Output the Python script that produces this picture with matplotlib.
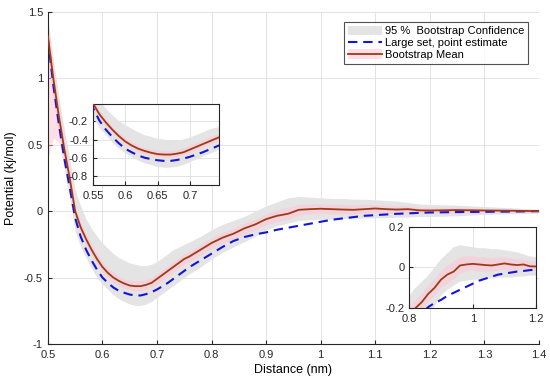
import numpy as np
import matplotlib
matplotlib.use("Agg")
import matplotlib.pyplot as plt
from matplotlib.patches import Patch
from matplotlib.lines import Line2D

plt.rcParams['font.family'] = ['Liberation Sans', 'DejaVu Sans']

# distance (nm)
dist = [0.50, 0.51, 0.52, 0.53, 0.54, 0.55, 0.56, 0.57, 0.58, 0.59,
        0.60, 0.61, 0.62, 0.63, 0.64, 0.65, 0.66, 0.67, 0.68, 0.69,
        0.70, 0.71, 0.72, 0.73, 0.74, 0.75, 0.76, 0.78, 0.80, 0.82,
        0.84, 0.86, 0.88, 0.90, 0.92, 0.94, 0.96, 0.98, 1.00, 1.02,
        1.04, 1.06, 1.08, 1.10, 1.12, 1.14, 1.16, 1.18, 1.20, 1.25,
        1.30, 1.35, 1.40]

# bootstrap mean
boot_mean = [1.32, 1.00, 0.72, 0.47, 0.25, 0.00, -0.12, -0.21, -0.29, -0.36,
             -0.42, -0.465, -0.50, -0.525, -0.545, -0.56, -0.565, -0.565, -0.555, -0.54,
             -0.51, -0.48, -0.45, -0.42, -0.39, -0.36, -0.34, -0.29, -0.24, -0.20,
             -0.17, -0.13, -0.10, -0.06, -0.035, -0.02, 0.01, 0.015, 0.018, 0.015,
             0.012, 0.01, 0.015, 0.02, 0.015, 0.012, 0.015, 0.006, 0.005, 0.008,
             0.005, 0.003, 0.0]

# large set, point estimate
point_est = [1.30, 0.95, 0.66, 0.40, 0.18, -0.05, -0.19, -0.29, -0.37, -0.44,
             -0.50, -0.54, -0.575, -0.60, -0.615, -0.628, -0.635, -0.635, -0.625, -0.61,
             -0.59, -0.565, -0.54, -0.51, -0.48, -0.45, -0.42, -0.37, -0.32, -0.27,
             -0.225, -0.195, -0.175, -0.16, -0.14, -0.125, -0.11, -0.095, -0.08, -0.065,
             -0.055, -0.045, -0.035, -0.03, -0.025, -0.02, -0.017, -0.013, -0.01, -0.007,
             -0.005, -0.003, 0.0]

# 95 % bootstrap confidence
ci_hi = [1.45, 1.14, 0.87, 0.62, 0.40, 0.16, 0.04, -0.06, -0.13, -0.19,
         -0.24, -0.28, -0.32, -0.35, -0.37, -0.39, -0.40, -0.41, -0.41, -0.40,
         -0.38, -0.35, -0.32, -0.29, -0.27, -0.25, -0.23, -0.19, -0.14, -0.10,
         -0.07, -0.04, 0.00, 0.04, 0.07, 0.10, 0.11, 0.105, 0.10, 0.095,
         0.095, 0.09, 0.09, 0.085, 0.08, 0.075, 0.065, 0.055, 0.05, 0.045,
         0.035, 0.025, 0.015]
ci_lo = [1.15, 0.85, 0.57, 0.32, 0.10, -0.15, -0.27, -0.35, -0.43, -0.50,
         -0.55, -0.59, -0.63, -0.66, -0.68, -0.70, -0.71, -0.71, -0.70, -0.68,
         -0.65, -0.62, -0.59, -0.56, -0.53, -0.50, -0.47, -0.42, -0.36, -0.31,
         -0.27, -0.23, -0.19, -0.14, -0.11, -0.09, -0.07, -0.065, -0.06, -0.06,
         -0.055, -0.055, -0.05, -0.05, -0.05, -0.045, -0.045, -0.04, -0.04, -0.035,
         -0.025, -0.02, -0.015]

# spread of the bootstrap mean (pink)
mean_hi = [1.38, 1.08, 0.80, 0.55, 0.32, 0.05, -0.08, -0.17, -0.25, -0.32,
           -0.38, -0.43, -0.46, -0.49, -0.51, -0.52, -0.525, -0.525, -0.515, -0.50,
           -0.47, -0.44, -0.41, -0.38, -0.35, -0.32, -0.30, -0.25, -0.20, -0.16,
           -0.13, -0.09, -0.06, -0.02, 0.01, 0.03, 0.05, 0.055, 0.055, 0.05,
           0.05, 0.045, 0.05, 0.05, 0.045, 0.04, 0.04, 0.03, 0.03, 0.03,
           0.02, 0.015, 0.01]
mean_lo = [0.40, 0.55, 0.52, 0.38, 0.20, -0.06, -0.17, -0.26, -0.33, -0.40,
           -0.46, -0.50, -0.54, -0.56, -0.58, -0.59, -0.60, -0.60, -0.59, -0.575,
           -0.55, -0.52, -0.49, -0.46, -0.43, -0.40, -0.38, -0.33, -0.28, -0.24,
           -0.21, -0.17, -0.14, -0.10, -0.08, -0.06, -0.03, -0.02, -0.015, -0.02,
           -0.02, -0.02, -0.015, -0.01, -0.015, -0.015, -0.01, -0.015, -0.015, -0.012,
           -0.01, -0.008, -0.01]

GRAY = '#e4e4e4'
PINK = '#ffc4d4'
BLUE = '#1414d8'
BROWN = '#a03a16'
DASH = (0, (4.5, 2.8))


def draw(ax):
    ax.fill_between(dist, ci_lo, ci_hi, color=GRAY, lw=0, zorder=1)
    ax.fill_between(dist, mean_lo, mean_hi, color=PINK, alpha=0.55, lw=0, zorder=2)
    ax.plot(dist, point_est, color=BLUE, lw=1.5, ls=DASH, zorder=3)
    ax.plot(dist, boot_mean, color=BROWN, lw=1.3, zorder=4)
    ax.grid(True, color='#dedede', lw=0.6)
    ax.set_axisbelow(True)
    ax.tick_params(direction='in', length=3, width=0.8, labelsize=8,
                   top=False, right=False, colors='#262626')
    ax.tick_params(axis='x', pad=4.5)
    for s in ax.spines.values():
        s.set_color('#262626')


fig = plt.figure(figsize=(5.5, 3.86), dpi=100)
ax = fig.add_axes([0.087, 0.109, 0.893, 0.86])
draw(ax)
ax.set_xlim(0.5, 1.4)
ax.set_ylim(-1, 1.5)
ax.set_xticks(np.arange(0.5, 1.41, 0.1))
ax.set_xticklabels(['0.5', '0.6', '0.7', '0.8', '0.9', '1', '1.1', '1.2', '1.3', '1.4'])
ax.set_yticks([-1, -0.5, 0, 0.5, 1, 1.5])
ax.set_yticklabels(['-1', '-0.5', '0', '0.5', '1', '1.5'])
ax.spines['top'].set_visible(False)
ax.spines['right'].set_visible(False)
ax.set_xlabel('Distance (nm)', fontsize=9, labelpad=3)
ax.set_ylabel('Potential (kj/mol)', fontsize=9, labelpad=5)

handles = [Patch(facecolor=GRAY, edgecolor='none'),
           Line2D([], [], color=BLUE, lw=1.5, ls=DASH),
           (Patch(facecolor=PINK, alpha=0.55, edgecolor='none'),
            Line2D([], [], color=BROWN, lw=1.3))]
labels = ['95 %  Bootstrap Confidence', 'Large set, point estimate', 'Bootstrap Mean']
leg = ax.legend(handles, labels, loc='upper right', bbox_to_anchor=(0.978, 0.97),
                fontsize=8, frameon=True, fancybox=False, handlelength=3.0,
                handleheight=0.9, handletextpad=0.3, borderpad=0.35,
                labelspacing=0.12, borderaxespad=0)
leg.get_frame().set_edgecolor('#262626')
leg.get_frame().set_linewidth(0.8)

# inset around the minimum
ax1 = fig.add_axes([0.169, 0.521, 0.229, 0.21])
draw(ax1)
ax1.set_xlim(0.55, 0.745)
ax1.set_ylim(-0.9, -0.005)
ax1.set_xticks([0.55, 0.6, 0.65, 0.7])
ax1.set_xticklabels(['0.55', '0.6', '0.65', '0.7'])
ax1.set_yticks([-0.8, -0.6, -0.4, -0.2])
ax1.set_yticklabels(['-0.8', '-0.6', '-0.4', '-0.2'])

# inset around the tail
ax2 = fig.add_axes([0.744, 0.202, 0.231, 0.21])
draw(ax2)
ax2.set_xlim(0.8, 1.2)
ax2.set_ylim(-0.2, 0.2)
ax2.set_xticks([0.8, 1.0, 1.2])
ax2.set_xticklabels(['0.8', '1', '1.2'])
ax2.set_yticks([-0.2, 0, 0.2])
ax2.set_yticklabels(['-0.2', '0', '0.2'])

fig.savefig('out.png', dpi=100)
